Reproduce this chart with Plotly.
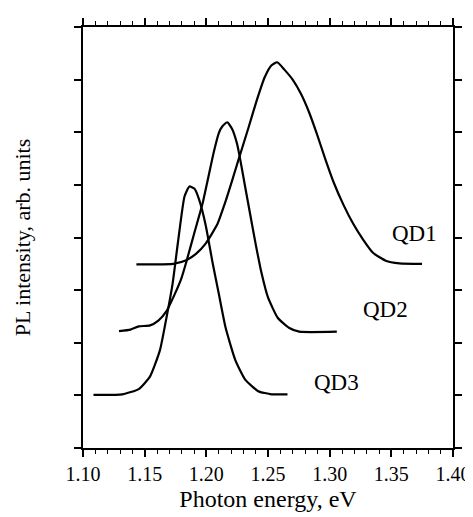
import plotly.graph_objects as go

# Photon energy (eV) and PL intensity (arb. units)
qd1_x = [1.1433, 1.1571, 1.1731, 1.1837, 1.1916, 1.1996, 1.2089, 1.2155, 1.2209, 1.2261,
         1.2341, 1.2408, 1.2474, 1.2527, 1.2575, 1.2633, 1.2700, 1.2767, 1.2833, 1.2899,
         1.2966, 1.3032, 1.3112, 1.3191, 1.3271, 1.3351, 1.3454, 1.3566, 1.3749]
qd1_y = [3.49, 3.49, 3.50, 3.57, 3.69, 3.89, 4.25, 4.68, 5.08, 5.48,
         6.08, 6.60, 7.05, 7.27, 7.33, 7.19, 7.00, 6.73, 6.38, 5.95,
         5.48, 5.05, 4.62, 4.26, 3.96, 3.71, 3.56, 3.51, 3.50]

qd2_x = [1.1292, 1.1385, 1.1452, 1.1544, 1.1611, 1.1677, 1.1743, 1.1797, 1.1837, 1.1903,
         1.1970, 1.2010, 1.2062, 1.2102, 1.2129, 1.2169, 1.2209, 1.2249, 1.2275, 1.2315,
         1.2368, 1.2402, 1.2448, 1.2500, 1.2580, 1.2673, 1.2753, 1.3058]
qd2_y = [2.22, 2.25, 2.31, 2.33, 2.42, 2.60, 2.92, 3.22, 3.53, 4.09,
         4.65, 5.08, 5.64, 5.99, 6.11, 6.19, 6.06, 5.78, 5.48, 4.96,
         4.28, 3.85, 3.32, 2.86, 2.47, 2.28, 2.21, 2.21]

qd3_x = [1.1085, 1.1319, 1.1452, 1.1544, 1.1624, 1.1677, 1.1725, 1.1770, 1.1823, 1.1863,
         1.1903, 1.1943, 1.1996, 1.2050, 1.2102, 1.2156, 1.2235, 1.2315, 1.2421, 1.2528,
         1.2658]
qd3_y = [1.01, 1.02, 1.12, 1.36, 1.86, 2.48, 3.10, 3.91, 4.78, 4.97,
         4.93, 4.71, 4.22, 3.53, 2.92, 2.29, 1.67, 1.30, 1.08, 1.02,
         1.02]

series_names = ["QD1", "QD2", "QD3"]
label_x = [1.3685, 1.3454, 1.3056]
label_y = [4.07, 2.64, 1.25]

x_tick_vals = [1.10, 1.15, 1.20, 1.25, 1.30, 1.35, 1.40]
x_tick_text = ["1.10", "1.15", "1.20", "1.25", "1.30", "1.35", "1.40"]

serif = "Liberation Serif, Times New Roman, serif"

fig = go.Figure()
for name, xs, ys in [("QD1", qd1_x, qd1_y), ("QD2", qd2_x, qd2_y), ("QD3", qd3_x, qd3_y)]:
    fig.add_trace(go.Scatter(x=xs, y=ys, mode="lines", name=name,
                             line=dict(color="black", width=2.2, shape="spline", smoothing=0.5),
                             showlegend=False))

for name, lx, ly in zip(series_names, label_x, label_y):
    fig.add_annotation(x=lx, y=ly, xref="x", yref="y", text=name, showarrow=False,
                       font=dict(family=serif, size=23, color="black"))

fig.update_xaxes(range=[1.10, 1.40], tickvals=x_tick_vals, ticktext=x_tick_text,
                 ticks="outside", ticklen=7, tickwidth=1.5, tickcolor="black",
                 showline=True, linecolor="black", linewidth=1.5, mirror="allticks",
                 showgrid=False, zeroline=False,
                 minor=dict(dtick=0.01, tick0=1.10, ticks="outside", ticklen=4,
                            tickwidth=1.2, tickcolor="black", showgrid=False),
                 tickfont=dict(family=serif, size=20, color="black"),
                 title=dict(text="Photon energy, eV", standoff=6,
                            font=dict(family=serif, size=24, color="black")))
fig.update_yaxes(range=[0, 8], dtick=1, tick0=0, showticklabels=False,
                 ticks="outside", ticklen=7, tickwidth=1.5, tickcolor="black",
                 showline=True, linecolor="black", linewidth=1.5, mirror="allticks",
                 showgrid=False, zeroline=False,
                 title=dict(text="PL intensity, arb. units", standoff=38,
                            font=dict(family=serif, size=22, color="black")))

fig.update_layout(width=473, height=517, margin=dict(l=75, r=22, t=10, b=77),
                  plot_bgcolor="white", paper_bgcolor="white")

fig.write_html("out.html")
